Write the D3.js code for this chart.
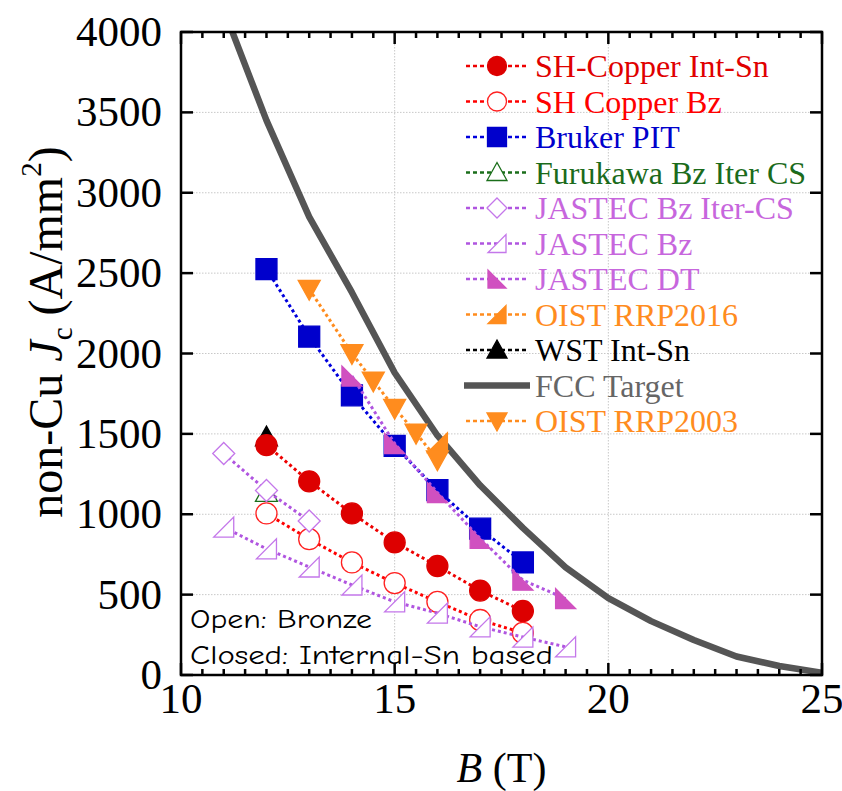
<!DOCTYPE html>
<html>
<head>
<meta charset="utf-8">
<script src="https://cdn.jsdelivr.net/npm/d3@7"></script>
<style>
  body { margin: 0; background: #fff; }
  svg { display: block; }
</style>
</head>
<body>
<svg width="842" height="791"></svg>
<script>
// data
const shIntB = [12, 13, 14, 15, 16, 17, 18];
const shIntJ = [1430, 1205, 1005, 825, 678, 525, 398];
const shBzB = [12, 13, 14, 15, 16, 17, 18];
const shBzJ = [1005, 845, 700, 572, 455, 342, 262];
const brukerB = [12, 13, 14, 15, 16, 17, 18];
const brukerJ = [2525, 2105, 1740, 1425, 1150, 910, 700];
const furukawaB = [12];
const furukawaJ = [1135];
const jastecItcsB = [11, 12, 13];
const jastecItcsJ = [1378, 1148, 958];
const jastecBzB = [11, 12, 13, 14, 15, 16, 17, 18, 19];
const jastecBzJ = [920, 785, 672, 560, 455, 385, 300, 236, 175];
const jastecDtB = [14, 15, 16, 17, 18, 19];
const jastecDtJ = [1860, 1440, 1135, 850, 590, 475];
const oist2016B = [16];
const oist2016J = [1445];
const wstB = [12];
const wstJ = [1480];
const fccB = [11, 12, 13, 14, 15, 16, 17, 18, 19, 20, 21, 22, 23, 24, 25];
const fccJ = [4140, 3450, 2850, 2380, 1880, 1490, 1180, 915, 670, 478, 335, 218, 115, 56, 14];
const oist2003B = [13, 14, 14.5, 15, 15.5, 16];
const oist2003J = [2400, 2000, 1830, 1660, 1505, 1340];

const xTicks = [10, 15, 20, 25];
const yTicks = [0, 500, 1000, 1500, 2000, 2500, 3000, 3500, 4000];

const zip = (b, j) => b.map((v, i) => ({ b: v, j: j[i] }));

const series = [
  { name: "SH-Copper Int-Sn", pts: zip(shIntB, shIntJ), shape: "circle", fill: "#dd0000", stroke: "#dd0000", line: "#ee0000", text: "#e00000" },
  { name: "SH Copper Bz", pts: zip(shBzB, shBzJ), shape: "circle", fill: "#fff", stroke: "#ff2020", line: "#ff0000", text: "#ff0000" },
  { name: "Bruker PIT", pts: zip(brukerB, brukerJ), shape: "square", fill: "#0000cc", stroke: "#0000cc", line: "#0000dd", text: "#0000cc" },
  { name: "Furukawa Bz Iter CS", pts: zip(furukawaB, furukawaJ), shape: "triUp", fill: "#fff", stroke: "#1a6e1a", line: "#1a6e1a", text: "#1b6b1b" },
  { name: "JASTEC Bz Iter-CS", pts: zip(jastecItcsB, jastecItcsJ), shape: "diamond", fill: "#fff", stroke: "#c477ea", line: "#b055e0", text: "#c766dd" },
  { name: "JASTEC Bz", pts: zip(jastecBzB, jastecBzJ), shape: "rtBR", fill: "#fff", stroke: "#c477ea", line: "#b055e0", text: "#c766dd" },
  { name: "JASTEC DT", pts: zip(jastecDtB, jastecDtJ), shape: "rtBL", fill: "#d050c0", stroke: "#d050c0", line: "#b055e0", text: "#c766dd" },
  { name: "OIST RRP2016", pts: zip(oist2016B, oist2016J), shape: "rtBR", fill: "#ff8c1e", stroke: "#ff8c1e", line: "#ff8c1e", text: "#ff8c1e" },
  { name: "WST Int-Sn", pts: zip(wstB, wstJ), shape: "triUp", fill: "#000", stroke: "#000", line: "#000", text: "#000" },
  { name: "FCC Target", pts: zip(fccB, fccJ), shape: null, line: "#555555", text: "#666666" },
  { name: "OIST RRP2003", pts: zip(oist2003B, oist2003J), shape: "triDown", fill: "#ff8c1e", stroke: "#ff8c1e", line: "#ff8c1e", text: "#ff8c1e" }
];

const svg = d3.select("svg");
const pLeft = 181, pTop = 32, pRight = 822, pBottom = 675;
const serif = "'Liberation Serif', 'Times New Roman', serif";

const x = d3.scaleLinear().domain([10, 25]).range([pLeft, pRight]);
const y = d3.scaleLinear().domain([0, 4000]).range([pBottom, pTop]);

svg.append("clipPath").attr("id", "clip")
  .append("rect").attr("x", pLeft).attr("y", pTop)
  .attr("width", pRight - pLeft).attr("height", pBottom - pTop);

// grid
const grid = svg.append("g").attr("stroke", "#c8c8c8").attr("stroke-width", 1).attr("stroke-dasharray", "1.5,1.5");
grid.selectAll(".gx").data([15, 20]).enter().append("line")
  .attr("x1", d => x(d)).attr("x2", d => x(d)).attr("y1", pTop).attr("y2", pBottom);
grid.selectAll(".gy").data(yTicks.slice(1, -1)).enter().append("line")
  .attr("y1", d => y(d)).attr("y2", d => y(d)).attr("x1", pLeft).attr("x2", pRight);

// marker paths
function shapePath(shape, s) {
  const h = s / 2;
  switch (shape) {
    case "circle": return d3.symbol(d3.symbolCircle, Math.PI * h * h)();
    case "square": return `M${-h},${-h}H${h}V${h}H${-h}Z`;
    case "diamond": return `M0,${-h}L${h},0L0,${h}L${-h},0Z`;
    case "triUp": return `M0,${-h}L${h},${h * 0.8}L${-h},${h * 0.8}Z`;
    case "triDown": return `M0,${h}L${h},${-h * 0.8}L${-h},${-h * 0.8}Z`;
    case "rtBR": return `M${-h},${h}L${h},${h}L${h},${-h}Z`;
    case "rtBL": return `M${-h},${-h}L${-h},${h}L${h},${h}Z`;
  }
}
const sizeOf = { circle: 21, square: 21, diamond: 22, triUp: 22, triDown: 22, rtBR: 20, rtBL: 20 };

const line = d3.line().x(d => x(d.b)).y(d => y(d.j));
const plot = svg.append("g").attr("clip-path", "url(#clip)");

// FCC target first, then WST, then the rest
const order = [9, 8, 0, 1, 2, 3, 4, 5, 6, 7, 10];
order.forEach(i => {
  const s = series[i];
  const g = plot.append("g");
  if (!s.shape) {
    g.append("path").attr("d", line(s.pts)).attr("fill", "none")
      .attr("stroke", s.line).attr("stroke-width", 6.5).attr("stroke-linejoin", "round");
    return;
  }
  g.append("path").attr("d", line(s.pts)).attr("fill", "none")
    .attr("stroke", s.line).attr("stroke-width", 3).attr("stroke-dasharray", "3,3");
  g.selectAll("path.m").data(s.pts).enter().append("path")
    .attr("class", "m")
    .attr("transform", d => `translate(${x(d.b)},${y(d.j)})`)
    .attr("d", shapePath(s.shape, sizeOf[s.shape]))
    .attr("fill", s.fill).attr("stroke", s.stroke).attr("stroke-width", 1.3);
});

// axes frame
const ax = svg.append("g").attr("stroke", "#000").attr("stroke-width", 2.5);
ax.append("rect").attr("x", pLeft).attr("y", pTop).attr("width", pRight - pLeft).attr("height", pBottom - pTop).attr("fill", "none");

const xMinor = d3.range(10.5, 25, 0.5).filter(v => v % 5 !== 0);
[[pBottom, -1], [pTop, 1]].forEach(([yy, dir]) => {
  ax.selectAll(null).data(xTicks).enter().append("line")
    .attr("x1", d => x(d)).attr("x2", d => x(d)).attr("y1", yy).attr("y2", yy + dir * 12);
  ax.selectAll(null).data(xMinor).enter().append("line")
    .attr("x1", d => x(d)).attr("x2", d => x(d)).attr("y1", yy).attr("y2", yy + dir * 6);
});
[[pLeft, 1], [pRight, -1]].forEach(([xx, dir]) => {
  ax.selectAll(null).data(yTicks).enter().append("line")
    .attr("y1", d => y(d)).attr("y2", d => y(d)).attr("x1", xx).attr("x2", xx + dir * 12);
});

// tick labels
svg.append("g").selectAll("text").data(yTicks).enter().append("text")
  .attr("x", 162).attr("y", d => y(d) + 14)
  .attr("text-anchor", "end").attr("font-family", serif).attr("font-size", 43)
  .text(d => d);
svg.append("g").selectAll("text").data(xTicks).enter().append("text")
  .attr("x", d => x(d)).attr("y", 713)
  .attr("text-anchor", "middle").attr("font-family", serif).attr("font-size", 43)
  .text(d => d);

// axis titles
const xt = svg.append("text").attr("x", (pLeft + pRight) / 2).attr("y", 782)
  .attr("text-anchor", "middle").attr("font-family", serif).attr("font-size", 42);
xt.append("tspan").attr("font-style", "italic").text("B");
xt.append("tspan").text(" (T)");

const yt = svg.append("text").attr("transform", "translate(62,332) rotate(-90)")
  .attr("text-anchor", "middle").attr("font-family", serif).attr("font-size", 48);
yt.append("tspan").text("non-Cu ");
yt.append("tspan").attr("font-style", "italic").text("J");
yt.append("tspan").attr("font-size", 29).attr("dy", 10).text("c");
yt.append("tspan").attr("dy", -10).text(" (A/mm");
yt.append("tspan").attr("font-size", 29).attr("dy", -21).text("2");
yt.append("tspan").attr("dy", 21).text(")");

// legend
const lg = svg.append("g");
series.forEach((s, i) => {
  const cy = 66 + i * 35.5;
  const r = lg.append("g");
  if (!s.shape) {
    r.append("line").attr("x1", 464).attr("x2", 530).attr("y1", cy).attr("y2", cy)
      .attr("stroke", s.line).attr("stroke-width", 6.5);
  } else {
    r.append("line").attr("x1", 466).attr("x2", 527).attr("y1", cy).attr("y2", cy)
      .attr("stroke", s.line).attr("stroke-width", 2.5).attr("stroke-dasharray", "4,3");
    r.append("path").attr("transform", `translate(497,${cy})`)
      .attr("d", shapePath(s.shape, sizeOf[s.shape] - 2))
      .attr("fill", s.fill).attr("stroke", s.stroke).attr("stroke-width", 1.3);
  }
  r.append("text").attr("x", 535).attr("y", cy + 11)
    .attr("font-family", serif).attr("font-size", 32).attr("fill", s.text)
    .text(s.name);
});

// annotation
const note = "'Comic Sans MS', 'Comic Neue', 'DejaVu Sans', sans-serif";
svg.append("text").attr("x", 190).attr("y", 628).attr("font-family", note)
  .attr("font-size", 26).attr("textLength", 182).attr("lengthAdjust", "spacingAndGlyphs")
  .text("Open: Bronze");
svg.append("text").attr("x", 190).attr("y", 664).attr("font-family", note)
  .attr("font-size", 26).attr("textLength", 363).attr("lengthAdjust", "spacingAndGlyphs")
  .text("Closed: Internal-Sn based");
</script>
</body>
</html>
